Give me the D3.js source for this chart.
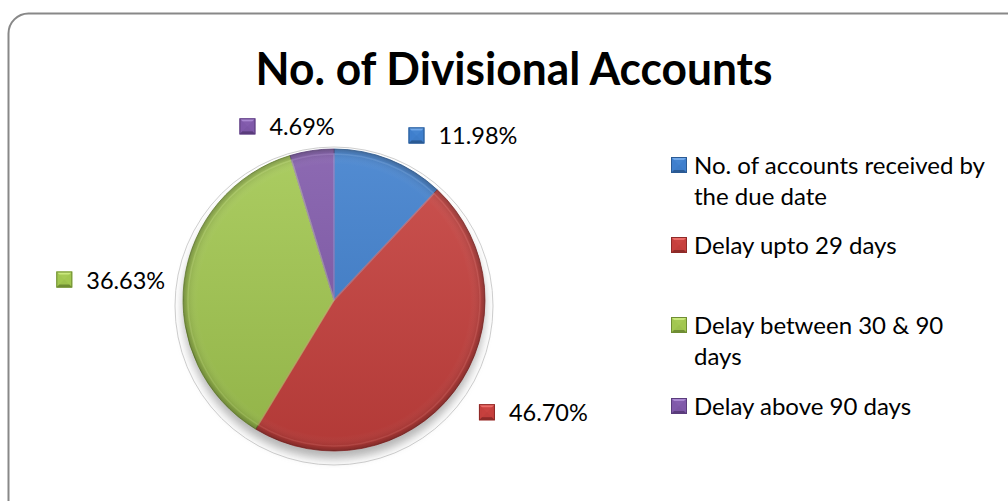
<!DOCTYPE html>
<html><head><meta charset="utf-8">
<script src="https://cdn.jsdelivr.net/npm/d3@7"></script>
<style>body{margin:0;background:#fff}svg{display:block}</style>
</head><body>
<svg id="chart" width="1008" height="501"></svg>
<script>
const categories = ["No. of accounts received by the due date", "Delay upto 29 days", "Delay between 30 & 90 days", "Delay above 90 days"];
const legendLines = [["No. of accounts received by", "the due date"], ["Delay upto 29 days"], ["Delay between 30 & 90", "days"], ["Delay above 90 days"]];
const values = [11.98, 46.70, 36.63, 4.69];
const valueLabels = ["11.98%", "46.70%", "36.63%", "4.69%"];
const title = "No. of Divisional Accounts";

const colors = ["#3F7FCD", "#C6403D", "#A2C750", "#8059AA"];
const light = ["#72A9EA", "#EC6C68", "#C9E87C", "#AA88D2"];
const dark = ["#2A5A94", "#8E2A28", "#6F8D33", "#5A3C7C"];
const FONT = "Lato, 'Open Sans', sans-serif";

const svg = d3.select("#chart");
const defs = svg.append("defs");
defs.append("filter").attr("id", "blur").attr("x", "-20%").attr("y", "-20%").attr("width", "140%").attr("height", "140%")
  .append("feGaussianBlur").attr("stdDeviation", 5);
const g1 = defs.append("radialGradient").attr("id", "sheen").attr("cx", "50%").attr("cy", "50%").attr("r", "50%");
g1.append("stop").attr("offset", "0%").attr("stop-color", "#fff").attr("stop-opacity", 0.0);
g1.append("stop").attr("offset", "90%").attr("stop-color", "#fff").attr("stop-opacity", 0.0);
g1.append("stop").attr("offset", "97%").attr("stop-color", "#000").attr("stop-opacity", 0.10);
g1.append("stop").attr("offset", "100%").attr("stop-color", "#000").attr("stop-opacity", 0.28);
const g2 = defs.append("linearGradient").attr("id", "tone").attr("x1", 0).attr("y1", 0).attr("x2", 0).attr("y2", 1);
g2.append("stop").attr("offset", "0%").attr("stop-color", "#fff").attr("stop-opacity", 0.10);
g2.append("stop").attr("offset", "100%").attr("stop-color", "#000").attr("stop-opacity", 0.10);

// frame
svg.append("rect").attr("x", 8.5).attr("y", 13.5).attr("width", 1020).attr("height", 520)
  .attr("rx", 20).attr("fill", "#fff").attr("stroke", "#888").attr("stroke-width", 2);

// title
svg.append("text").attr("x", 514).attr("y", 85).attr("text-anchor", "middle")
  .attr("font-family", FONT).attr("font-weight", "bold").attr("font-size", 46)
  .attr("textLength", 517).attr("lengthAdjust", "spacingAndGlyphs")
  .attr("fill", "#000").text(title);

const cx = 334, cy = 300, R = 151;
const pg = svg.append("g").attr("transform", `translate(${cx},${cy})`);

// shadow & outline
pg.append("circle").attr("cx", 0).attr("cy", 6).attr("r", 159).attr("fill", "none").attr("stroke", "#cfcfcf").attr("stroke-width", 1);
pg.append("circle").attr("cx", 0).attr("cy", 8).attr("r", R).attr("fill", "#777").attr("opacity", 0.55).attr("filter", "url(#blur)");

const pie = d3.pie().sort(null).value(d => d)(values);
const arc = d3.arc().innerRadius(0).outerRadius(R);
const innerArc = d3.arc().innerRadius(0).outerRadius(R - 5);

pg.selectAll("path.slice").data(pie).join("path").attr("class", "slice")
  .attr("d", arc).attr("fill", (d, i) => colors[i]).attr("stroke", (d, i) => dark[i]).attr("stroke-width", 0.8);
pg.selectAll("path.rim").data(pie).join("path").attr("class", "rim")
  .attr("d", innerArc).attr("fill", "none").attr("stroke", (d, i) => light[i]).attr("stroke-width", 1.5).attr("opacity", 0.45);
pg.append("circle").attr("r", R).attr("fill", "url(#sheen)");
pg.append("circle").attr("r", R).attr("fill", "url(#tone)");

// bevelled marker
function marker(sel, x, y, s, i) {
  const h = s / 2, c = [x + h, y + h], b = 3;
  const pts = (a) => a.map(p => p.join(",")).join(" ");
  sel.append("rect").attr("x", x).attr("y", y).attr("width", s).attr("height", s).attr("fill", colors[i]);
  sel.append("polygon").attr("points", pts([[x, y], [x + s, y], c])).attr("fill", light[i]);
  sel.append("polygon").attr("points", pts([[x, y + s], [x + s, y + s], c])).attr("fill", dark[i]);
  sel.append("rect").attr("x", x + b).attr("y", y + b).attr("width", s - 2 * b).attr("height", s - 2 * b).attr("fill", colors[i]).attr("opacity", 0.9);
  sel.append("rect").attr("x", x + 0.5).attr("y", y + 0.5).attr("width", s - 1).attr("height", s - 1).attr("fill", "none").attr("stroke", dark[i]).attr("stroke-width", 1);
}

// data labels positioned around an outer label arc
const labelArc = d3.arc().innerRadius(R * 1.35).outerRadius(R * 1.35);
const nudges = [[54, 25], [37, -11], [-21, 5], [-17, 28]];
const lg = svg.append("g");
pie.forEach((d, i) => {
  const [px, py] = labelArc.centroid(d);
  const lx = cx + px + nudges[i][0], ly = cy + py + nudges[i][1];
  const grp = lg.append("g");
  const t = grp.append("text").attr("font-family", FONT).attr("font-size", 23.5).attr("fill", "#000").text(valueLabels[i]);
  const w = t.node().getComputedTextLength();
  const total = 16 + 14 + w;
  const x0 = lx - total / 2;
  marker(grp, x0, ly - 8, 16, i);
  t.attr("x", x0 + 30).attr("y", ly + 9);
});

// legend
const legTop = [174, 254, 334, 415];
const leg = svg.append("g");
categories.forEach((c, i) => {
  const y = legTop[i];
  marker(leg, 671, y - 17, 16, i);
  const t = leg.append("text").attr("font-family", FONT).attr("font-size", 24).attr("fill", "#000");
  legendLines[i].forEach((ln, k) => {
    t.append("tspan").attr("x", 694).attr("y", y + k * 31).text(ln);
  });
});
</script>
</body></html>
